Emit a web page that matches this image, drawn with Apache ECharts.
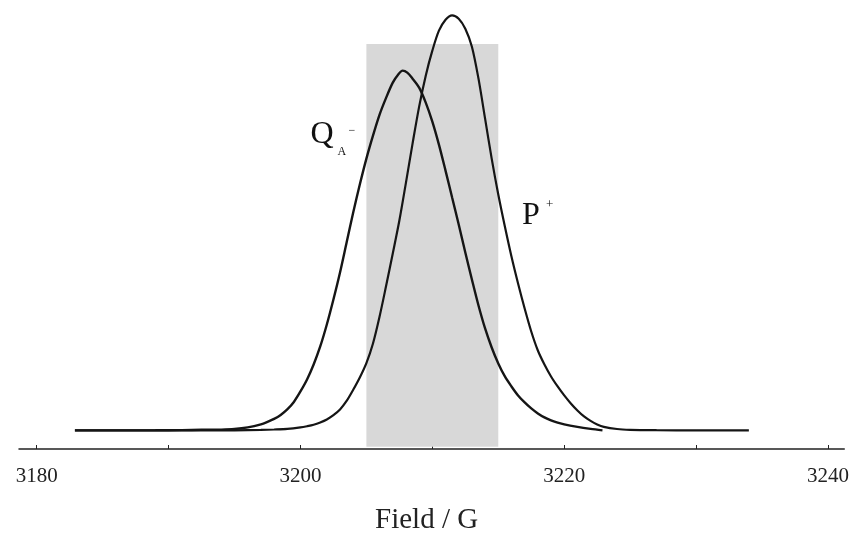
<!DOCTYPE html>
<html>
<head>
<meta charset="utf-8">
<script src="https://cdn.jsdelivr.net/npm/echarts@6/dist/echarts.min.js"></script>
<style>html,body{margin:0;padding:0;background:#fff;}#c{width:852px;height:540px;}</style>
</head>
<body>
<div id="c"></div>
<script>
// Field axis ticks and labels
const tickValues = [3180, 3190, 3200, 3210, 3220, 3230, 3240];
const labelValues = [3180, 3200, 3220, 3240];
// Shaded field window
const bandField = [3205, 3215];
const bandInt = [-16.3, 386.7];
// Q_A^- spectrum (arbitrary intensity units)
const qField = [3182.9, 3186.0, 3189.0, 3191.0, 3192.5, 3194.0, 3195.0, 3196.0, 3197.0, 3197.5, 3198.0, 3198.5, 3199.0, 3199.5, 3200.0, 3200.5, 3201.0, 3201.5, 3202.0, 3202.5, 3203.0, 3203.5, 3204.0, 3204.5, 3205.0, 3205.5, 3206.0, 3206.5, 3207.0, 3207.4, 3207.75, 3208.1, 3208.5, 3209.0, 3209.5, 3210.0, 3210.5, 3211.0, 3211.5, 3212.0, 3212.5, 3213.0, 3213.5, 3214.0, 3214.5, 3215.0, 3215.5, 3216.0, 3216.5, 3217.0, 3217.5, 3218.0, 3218.5, 3219.0, 3219.5, 3220.0, 3221.0, 3222.0, 3222.9];
const qInt   = [0, 0, 0.1, 0.3, 0.6, 0.8, 1.4, 3.0, 6.0, 8.5, 11.5, 15.5, 21, 28.5, 39, 51, 66, 84, 106, 131, 158, 188, 218, 246, 272, 295, 316, 333, 348, 356, 360, 358, 352, 343, 328, 309, 286, 260, 233, 206, 178, 151, 125, 102, 83, 67, 54, 44, 35, 28, 22, 17, 13, 10, 7.8, 6, 3.5, 1.5, 0];
// P+ spectrum
const pField = [3182.9, 3190.0, 3195.0, 3197.0, 3198.0, 3199.0, 3200.0, 3200.5, 3201.0, 3201.5, 3202.0, 3202.5, 3203.0, 3203.5, 3204.0, 3204.5, 3205.0, 3205.5, 3206.0, 3206.5, 3207.0, 3207.5, 3208.0, 3208.5, 3209.0, 3209.5, 3210.0, 3210.5, 3211.0, 3211.5, 3212.0, 3212.5, 3213.0, 3213.5, 3214.0, 3214.5, 3215.0, 3215.5, 3216.0, 3216.5, 3217.0, 3217.5, 3218.0, 3218.5, 3219.0, 3219.5, 3220.0, 3220.5, 3221.0, 3221.5, 3222.0, 3222.5, 3223.0, 3224.0, 3225.0, 3227.0, 3230.0, 3234.0];
const pInt   = [0, 0, 0.1, 0.5, 0.9, 1.5, 3.0, 4.2, 5.7, 8, 11, 15.3, 21, 29.5, 40.7, 53, 67.4, 87, 114, 145, 177, 210, 248, 287, 324, 355, 380, 400, 411, 415.4, 412, 402, 384, 352, 312, 272, 236, 204, 174, 147, 122, 99, 80, 66, 54, 44, 35, 27, 20, 14, 9.5, 6, 3.6, 1.4, 0.6, 0.2, 0, 0];

const zip = (a, b) => a.map((v, i) => [v, b[i]]);
const serif = "'Liberation Serif', 'DejaVu Serif', serif";

const chart = echarts.init(document.getElementById('c'), null, {renderer: 'canvas'});
chart.setOption({
  animation: false,
  backgroundColor: '#fff',
  grid: {left: 19, right: 7, top: 9.3, bottom: 90.7},
  xAxis: {
    type: 'value',
    min: 3178.66, max: 3241.23,
    name: 'Field / G',
    nameLocation: 'middle',
    nameGap: 57,
    nameTextStyle: {fontFamily: serif, fontSize: 29, color: '#222', padding: [0, 10, 0, 0]},
    axisLine: {show: true, onZero: false, lineStyle: {color: '#222', width: 1.5}},
    axisTick: {show: true, inside: true, length: 4, lineStyle: {color: '#222', width: 1}, customValues: tickValues},
    axisLabel: {fontFamily: serif, fontSize: 21, color: '#222', margin: 17, customValues: labelValues,
      formatter: v => String(Math.round(v))},
    splitLine: {show: false}
  },
  yAxis: {
    type: 'value', min: -18.6, max: 421.4, show: false,
    splitLine: {show: false}
  },
  series: [
    {
      type: 'line', name: 'QA-', data: zip(qField, qInt), smooth: 0.3, showSymbol: false,
      lineStyle: {color: '#151515', width: 2.4}, z: 3,
      markArea: {
        silent: true,
        itemStyle: {color: '#d8d8d8'},
        data: [[{coord: [bandField[0], bandInt[0]]}, {coord: [bandField[1], bandInt[1]]}]]
      }
    },
    {
      type: 'line', name: 'P+', data: zip(pField, pInt), smooth: 0.3, showSymbol: false,
      lineStyle: {color: '#151515', width: 2.2}, z: 3
    }
  ],
  graphic: [
    {type: 'text', style: {text: 'Q', x: 310.5, y: 135, font: '32px ' + serif, fill: '#111', verticalAlign: 'middle'}},
    {type: 'text', style: {text: 'A', x: 337.5, y: 151.5, font: '12px ' + serif, fill: '#111', verticalAlign: 'middle'}},
    {type: 'text', style: {text: '\u2212', x: 348.5, y: 130.7, font: '12px ' + serif, fill: '#111', verticalAlign: 'middle'}},
    {type: 'text', style: {text: 'P', x: 522, y: 215.3, font: '32px ' + serif, fill: '#111', verticalAlign: 'middle'}},
    {type: 'text', style: {text: '+', x: 549.7, y: 204.5, font: '13px ' + serif, fill: '#111', align: 'center', verticalAlign: 'middle'}}
  ]
});
</script>
</body>
</html>
